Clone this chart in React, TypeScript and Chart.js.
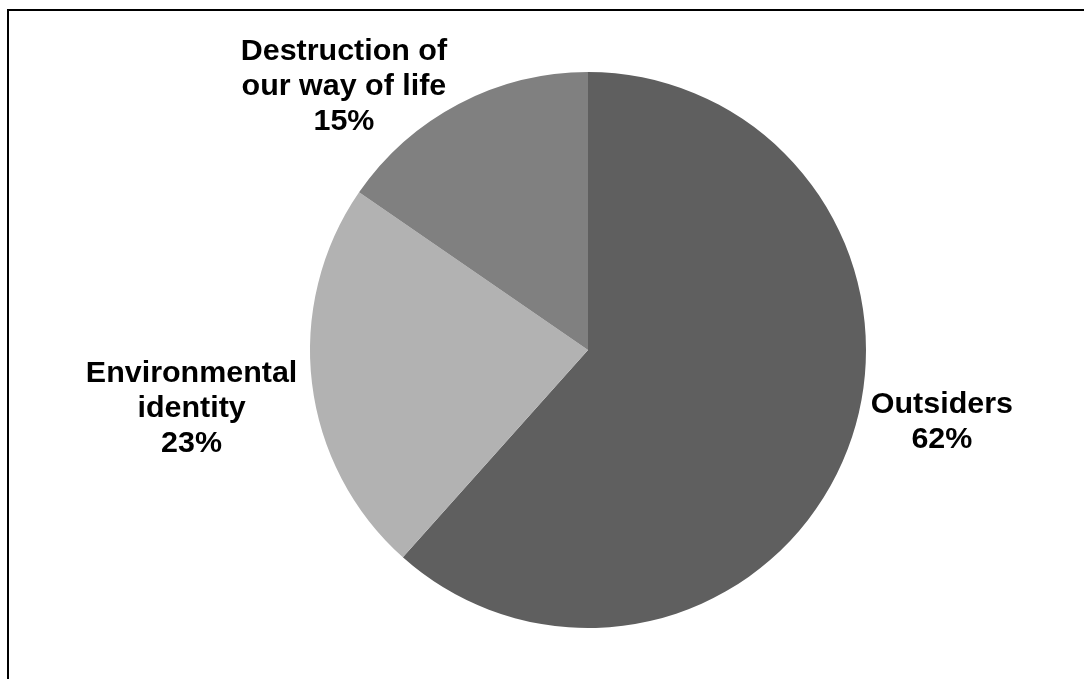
import React, { useEffect, useRef } from "react";
import { Chart, registerables } from "chart.js";

Chart.register(...registerables);

const categories = ["Outsiders", "Environmental identity", "Destruction of our way of life"];
const labelLines = [["Outsiders"], ["Environmental", "identity"], ["Destruction of", "our way of life"]];
const values = [61.6, 23.0, 15.4];
const colors = ["#5f5f5f", "#b2b2b2", "#808080"];
// label centre offsets in units of the pie radius
const labelPlacement = [
  [1.273, 0.262],
  [-1.426, 0.212],
  [-0.878, -0.946],
];

const labelPlugin = {
  id: "pieLabels",
  afterDatasetsDraw(chart: any) {
    const ctx = chart.ctx;
    const meta = chart.getDatasetMeta(0);
    const lh = 35;
    ctx.save();
    ctx.font = "bold 29px 'Liberation Sans', Arial, sans-serif";
    ctx.fillStyle = "#000000";
    ctx.textAlign = "center";
    ctx.textBaseline = "middle";
    meta.data.forEach((arc: any, i: number) => {
      const r = arc.outerRadius;
      const cx = arc.x + labelPlacement[i][0] * r;
      const cy = arc.y + labelPlacement[i][1] * r;
      const lines = [...labelLines[i], Math.round(values[i]) + "%"];
      const startY = cy - ((lines.length - 1) * lh) / 2;
      lines.forEach((t, j) => {
        ctx.save();
        ctx.translate(cx, startY + j * lh);
        ctx.scale(1.05, 1);
        ctx.fillText(t, 0, 0);
        ctx.restore();
      });
    });
    ctx.restore();
  },
};

export default function App() {
  const ref = useRef<HTMLCanvasElement>(null);
  useEffect(() => {
    if (!ref.current) return;
    const chart = new Chart(ref.current, {
      type: "pie",
      data: {
        labels: categories,
        datasets: [
          {
            data: values,
            backgroundColor: colors,
            borderWidth: 0,
          },
        ],
      },
      options: {
        animation: false,
        responsive: false,
        maintainAspectRatio: false,
        layout: { padding: { left: 310, right: 218, top: 72, bottom: 51 } },
        plugins: {
          legend: { display: false },
          tooltip: { enabled: false },
        },
      },
      plugins: [labelPlugin],
    });
    return () => chart.destroy();
  }, []);
  return (
    <div style={{ position: "fixed", left: 0, top: 0, width: 1084, height: 679, overflow: "hidden", background: "#fff" }}>
      <div
        style={{
          position: "absolute",
          left: 7,
          top: 9,
          width: 1200,
          height: 800,
          border: "2px solid #000",
          boxSizing: "border-box",
        }}
      />
      <canvas ref={ref} width={1084} height={679} style={{ position: "absolute", left: 0, top: 0, width: 1084, height: 679 }} />
    </div>
  );
}
